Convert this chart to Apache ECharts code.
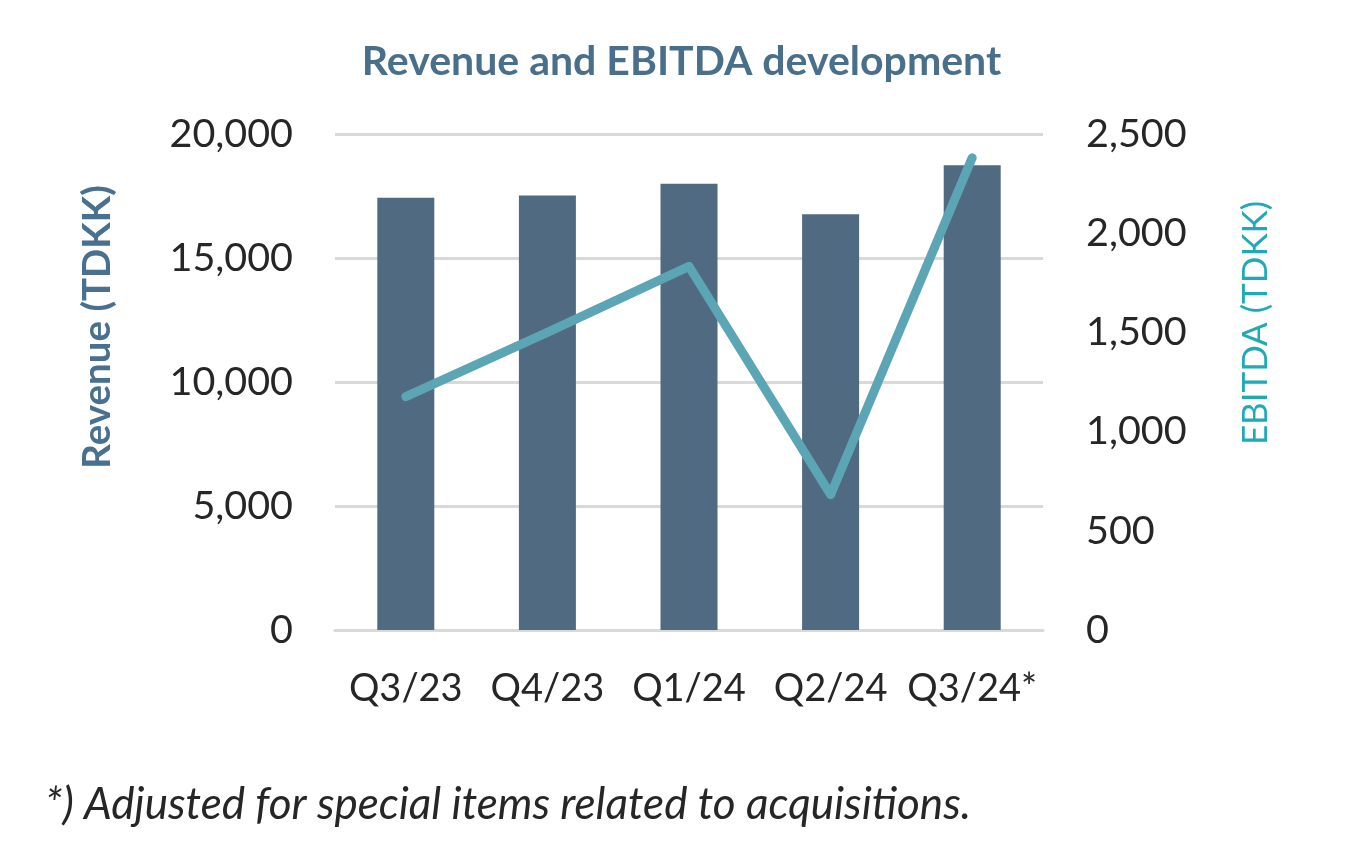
<!DOCTYPE html>
<html><head><meta charset="utf-8">
<script src="https://cdn.jsdelivr.net/npm/echarts@6/dist/echarts.min.js"></script>
<style>html,body{margin:0;padding:0;background:#fff}#c{width:1363px;height:856px}</style>
</head><body><div id="c"></div>
<script>
const categories = ['Q3/23', 'Q4/23', 'Q1/24', 'Q2/24', 'Q3/24*'];
const revenue = [17430, 17520, 17990, 16760, 18740];
const ebitda = [1176, 1500, 1833, 682, 2380];
const revenueTicks = [0, 5000, 10000, 15000, 20000];
const ebitdaTicks = [0, 500, 1000, 1500, 2000, 2500];

const fmt = v => v.toLocaleString('en-US');
const chart = echarts.init(document.getElementById('c'));
chart.setOption({
  animation: false,
  title: [{
    text: 'Revenue and EBITDA development',
    left: 'center', top: 36,
    textStyle: {fontFamily: 'Lato', fontWeight: 'bold', fontSize: 41, color: '#4a6f8a'}
  }, {
    text: '*) Adjusted for special items related to acquisitions.',
    left: 40, top: 778,
    textStyle: {fontFamily: 'Lato', fontStyle: 'italic', fontWeight: 'normal', fontSize: 44, color: '#262626'}
  }],
  grid: {left: 335, right: 320, top: 134, bottom: 226},
  xAxis: {
    type: 'category', data: categories,
    axisLine: {lineStyle: {color: '#d9d9d9', width: 3}},
    axisTick: {show: false},
    axisLabel: {fontFamily: 'Lato', fontSize: 38, color: '#262626', margin: 40, interval: 0}
  },
  yAxis: [{
    type: 'value', min: revenueTicks[0], max: revenueTicks[revenueTicks.length - 1], interval: 5000,
    name: 'Revenue (TDKK)', nameLocation: 'middle', nameRotate: 90, nameGap: 218,
    nameTextStyle: {fontFamily: 'Lato', fontWeight: 'bold', fontSize: 38.5, color: '#4a7090', padding: [0, 0, 0, 110]},
    axisLine: {show: false}, axisTick: {show: false},
    axisLabel: {fontFamily: 'Lato', fontSize: 39.5, color: '#262626', margin: 42, formatter: fmt},
    splitLine: {lineStyle: {color: '#d9d9d9', width: 3}}
  }, {
    type: 'value', min: ebitdaTicks[0], max: ebitdaTicks[ebitdaTicks.length - 1], interval: 500,
    name: 'EBITDA (TDKK)', nameLocation: 'middle', nameRotate: 90, nameGap: 195,
    nameTextStyle: {fontFamily: 'Lato', fontWeight: 'normal', fontSize: 35, color: '#22a9b8', padding: [0, 0, 0, 118]},
    axisLine: {show: false}, axisTick: {show: false},
    axisLabel: {fontFamily: 'Lato', fontSize: 39.5, color: '#262626', margin: 43, formatter: fmt},
    splitLine: {show: false}
  }],
  series: [{
    type: 'bar', data: revenue, yAxisIndex: 0, barWidth: 57,
    itemStyle: {color: '#506a82'}
  }, {
    type: 'line', data: ebitda, yAxisIndex: 1, symbol: 'none',
    lineStyle: {color: '#5ba5b4', width: 9, cap: 'round', join: 'round'}
  }]
});
</script></body></html>
